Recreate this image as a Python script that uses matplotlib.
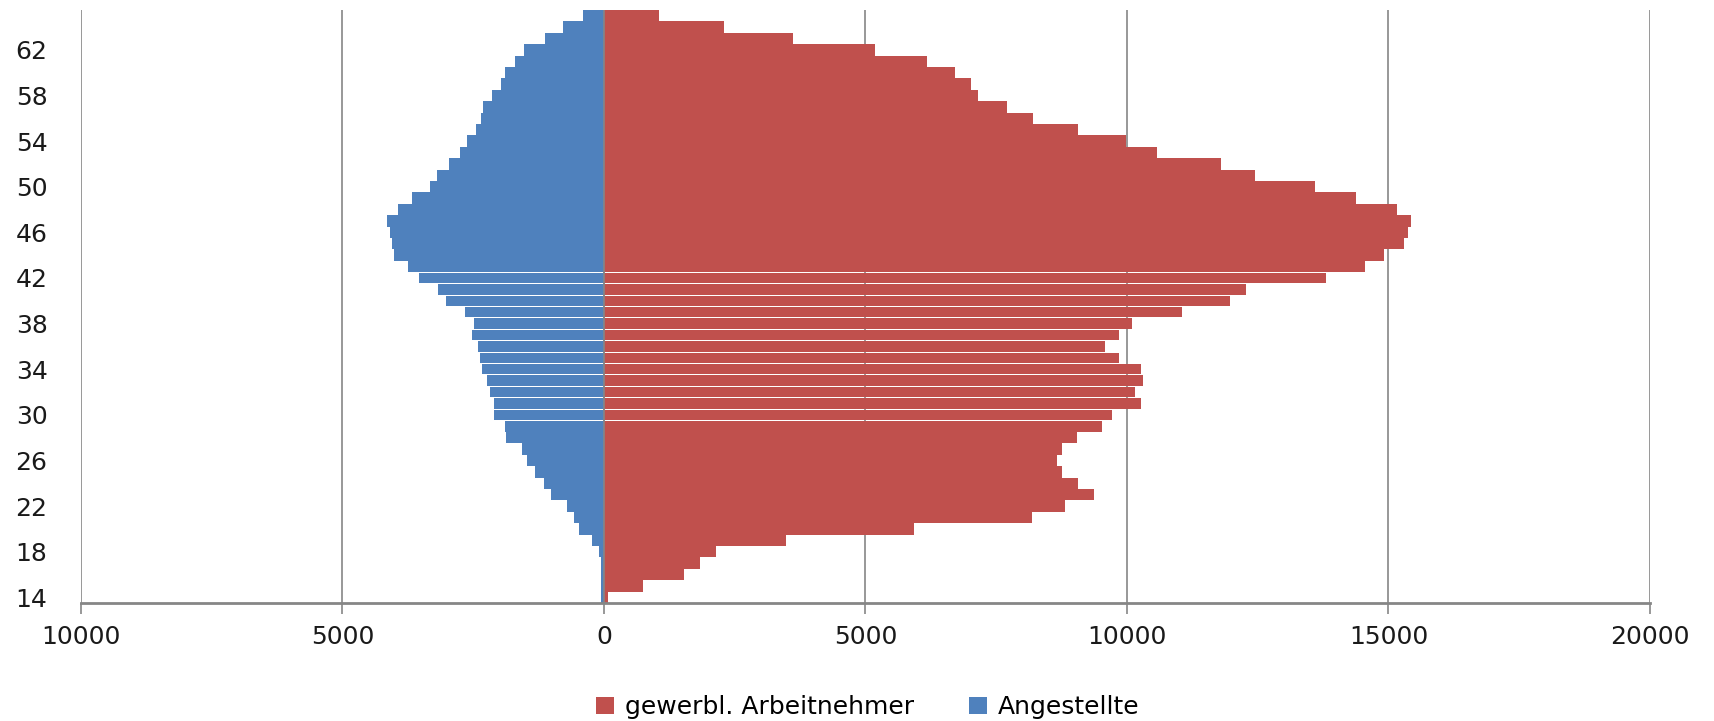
import numpy as np
import matplotlib
matplotlib.use('Agg')
import matplotlib.pyplot as plt
from matplotlib.ticker import FuncFormatter, MultipleLocator

# age categories 14..65
ages = np.arange(14, 66)

# Angestellte (left side, drawn negative)
angestellte = [52, 65, 65, 65, 96, 230, 473, 575, 709, 1015,
               1149, 1322, 1464, 1565, 1866, 1897, 2107, 2107, 2172, 2241,
               2337, 2375, 2414, 2517, 2479, 2651, 3027, 3169, 3544, 3743,
               4017, 4050, 4088, 4151, 3946, 3672, 3333, 3193, 2958, 2753,
               2619, 2446, 2345, 2312, 2140, 1973, 1897, 1699, 1527, 1119,
               780, 410]

# gewerbl. Arbeitnehmer (right side)
arbeitnehmer = [69, 753, 1538, 1839, 2151, 3479, 5931, 8180, 8824, 9374,
                9067, 8761, 8659, 8761, 9035, 9513, 9713, 10261, 10159, 10299,
                10261, 9853, 9579, 9853, 10088, 11046, 11966, 12272, 13799, 14546,
                14923, 15300, 15370, 15433, 15165, 14381, 13596, 12441, 11791, 10579,
                9987, 9067, 8211, 7701, 7158, 7024, 6717, 6169, 5184, 3614,
                2286, 1060]

red = '#C0504D'
blue = '#4F81BD'
grid_c = '#868686'
fs = 18

plt.rcParams['font.family'] = ['DejaVu Sans']

fig = plt.figure(figsize=(17.15, 7.21), dpi=100)
ax = fig.add_axes([0.0472, 0.1637, 0.9149, 0.8224])

# the excel render shows thin gaps between the bars of ages 30-42
h = np.where((ages >= 30) & (ages <= 42), 0.9, 1.0)

b1 = ax.barh(ages, arbeitnehmer, height=h, color=red, zorder=2,
             label='gewerbl. Arbeitnehmer')
b2 = ax.barh(ages, -np.array(angestellte), height=h, color=blue, zorder=2,
             label='Angestellte')
ax.axvline(0, color=grid_c, lw=1.2, zorder=3)

ax.set_xlim(-10000, 20000)
ax.set_ylim(13.5, 65.5)
ax.xaxis.set_major_locator(MultipleLocator(5000))
ax.xaxis.set_major_formatter(FuncFormatter(lambda v, p: '%d' % abs(v)))
ax.set_yticks(np.arange(14, 63, 4))

ax.grid(axis='x', color=grid_c, lw=1.2, zorder=0)
ax.set_axisbelow(True)
for s in ['top', 'left', 'right']:
    ax.spines[s].set_visible(False)
ax.spines['bottom'].set_color(grid_c)
ax.spines['bottom'].set_linewidth(2)

ax.tick_params(axis='x', length=8, width=1.2, color=grid_c, pad=8,
               labelsize=fs, labelcolor='#1a1a1a')
ax.tick_params(axis='y', length=0, pad=24, labelsize=fs, labelcolor='#1a1a1a')

fig.legend(handles=[b1, b2], loc='center', bbox_to_anchor=(0.506, 0.0194),
           ncol=2, frameon=False, fontsize=fs, handlelength=0.7,
           handleheight=0.7, handletextpad=0.45, columnspacing=2.2)

fig.savefig('out.png', dpi=100)
